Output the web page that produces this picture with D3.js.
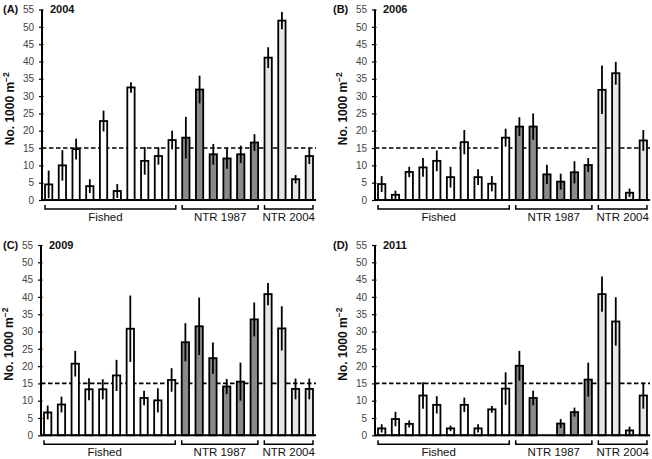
<!DOCTYPE html>
<html><head><meta charset="utf-8">
<script src="https://cdn.jsdelivr.net/npm/d3@7"></script>
<style>body{margin:0;background:#fff}svg{display:block}</style>
</head><body>
<svg id="c" width="652" height="459"></svg>
<script>
const groups = ["Fished","NTR 1987","NTR 2004"];
const groupSizes = [10,6,4];
const groupColors = ["#ffffff","#8a8a8a","#e6e6e6"];
const yTicks = [0,5,10,15,20,25,30,35,40,45,50,55];
const threshold = 15;
const panelLabels = ["(A)","(B)","(C)","(D)"];
const years = ["2004","2006","2009","2011"];

const mean2004 = [4.5,10,14.7,4,22.8,2.6,32.5,11.3,12.7,17.3, 18,31.9,13.2,12,13.2,16.6, 41.1,51.8,6,12.7];
const err2004  = [4,4.4,3,2,3,2,1.5,4,2.5,2.7, 6,4,3,3,2.5,2.4, 3,2.5,1.2,2.3];
const mean2006 = [4.6,1.5,8.1,9.4,11.3,6.6,16.7,6.6,4.7,18, 21.2,21.2,7.4,5.3,8,10.1, 31.8,36.6,2.1,17.2];
const err2006  = [2.3,1.2,1.5,2.7,3,3,3.5,2.3,2.2,2.6, 2.7,3.8,2.8,2.3,3.2,2, 7,3.3,1.2,3];
const mean2009 = [6.6,8.9,20.7,13.3,13.3,17.3,30.8,10.8,10.1,16, 26.9,31.5,22.3,14.1,15.5,33.5, 40.8,30.9,13.4,13.4];
const err2009  = [2,2.3,3.7,3.2,2.9,4.5,9.6,2.1,3.5,3.4, 5.5,8.3,4.5,2.2,5.5,4.9, 3.2,6.4,3,3];
const mean2011 = [2,4.7,3.3,11.5,8.8,2,8.8,2,7.5,13.5, 20.1,10.8,0,3.4,6.7,16.1, 40.8,32.9,1.4,11.5];
const err2011  = [1.2,2.1,1,3.8,2.5,0.8,2.1,1.2,1,4.7, 4.3,2.1,0,1.3,1.3,4.9, 5.1,7,1.1,3.8];

const panelMeans = [mean2004,mean2006,mean2009,mean2011];
const panelErrs = [err2004,err2006,err2009,err2011];

const svg = d3.select("#c");
const layouts = [
  {x0:42, x1:316, yb:200, yt:9.5},
  {x0:375, x1:650, yb:200, yt:9.5},
  {x0:41, x1:316, yb:435.3, yt:245},
  {x0:375, x1:650, yb:435.3, yt:245}
];

const groupOf = [];
groupSizes.forEach((n,g)=>{for(let i=0;i<n;i++)groupOf.push(g);});

layouts.forEach((L,p)=>{
  const means = panelMeans[p], errs = panelErrs[p];
  const idx = d3.range(means.length);
  const x = d3.scaleBand().domain(idx).range([L.x0, L.x1]).paddingInner(0.468).paddingOuter(0.22);
  const y = d3.scaleLinear().domain([0,55]).range([L.yb, L.yt]);
  const g = svg.append("g");

  g.append("line").attr("x1",L.x0).attr("x2",L.x1)
    .attr("y1",y(threshold)).attr("y2",y(threshold))
    .attr("stroke","#000").attr("stroke-width",1.6).attr("stroke-dasharray","4.5,2.5");

  g.selectAll("rect.bar").data(idx.filter(i=>means[i]>0)).join("rect")
    .attr("x",i=>x(i)).attr("width",x.bandwidth())
    .attr("y",i=>y(means[i])).attr("height",i=>y(0)-y(means[i]))
    .attr("fill",i=>groupColors[groupOf[i]])
    .attr("stroke","#000").attr("stroke-width",1.8);

  g.selectAll("line.err").data(idx.filter(i=>errs[i]>0)).join("line")
    .attr("x1",i=>x(i)+x.bandwidth()/2).attr("x2",i=>x(i)+x.bandwidth()/2)
    .attr("y1",i=>y(Math.max(0,means[i]-errs[i]))).attr("y2",i=>y(means[i]+errs[i]))
    .attr("stroke","#000").attr("stroke-width",1.8);

  g.append("line").attr("x1",L.x0).attr("x2",L.x1).attr("y1",y(0)).attr("y2",y(0))
    .attr("stroke","#000").attr("stroke-width",2);

  const ax = g.append("g").attr("transform",`translate(${L.x0},0)`)
    .call(d3.axisLeft(y).tickValues(yTicks).tickSize(3).tickPadding(5));
  ax.select(".domain").attr("stroke","#000").attr("stroke-width",2).attr("d",`M0,${y(0)}V${y(55)}`);
  ax.selectAll(".tick line").attr("stroke","#000").attr("stroke-width",1.2).attr("x2",-3).attr("x1",1.5);
  ax.selectAll(".tick text").attr("fill","#444").style("font-family","Liberation Sans, Arial, sans-serif").style("font-size","10px");

  let start = 0;
  groupSizes.forEach((n,gi)=>{
    const a = x(start), b = x(start+n-1)+x.bandwidth();
    const by = y(0)+9;
    g.append("path").attr("d",`M${a},${by-4}V${by}H${b}V${by-4}`)
      .attr("fill","none").attr("stroke","#000").attr("stroke-width",1.5);
    g.append("text").attr("x",(a+b)/2 - (gi===0?5:0)).attr("y",by+11.5)
      .attr("text-anchor","middle").attr("fill","#111")
      .style("font-family","Liberation Sans, Arial, sans-serif").style("font-size","11.5px")
      .text(groups[gi]);
    start += n;
  });

  const lx = p%2===0 ? 3 : 333;
  g.append("text").attr("x",lx).attr("y",L.yt+3.5).attr("fill","#111")
    .style("font-family","Liberation Sans, Arial, sans-serif").style("font-size","11px").style("font-weight","bold")
    .text(panelLabels[p]);
  g.append("text").attr("x",L.x0+8).attr("y",L.yt+3.5).attr("fill","#111")
    .style("font-family","Liberation Sans, Arial, sans-serif").style("font-size","11px").style("font-weight","bold")
    .text(years[p]);

  const ylx = L.x0 - 28, yly = (y(0)+y(55))/2 + 4;
  const t = g.append("text").attr("transform",`translate(${ylx},${yly}) rotate(-90)`)
    .attr("text-anchor","middle").attr("fill","#111")
    .style("font-family","Liberation Sans, Arial, sans-serif").style("font-size","12px").style("font-weight","bold");
  t.append("tspan").text("No. 1000 m");
  t.append("tspan").attr("dy",-5).style("font-size","8.5px").text("−2");
});
</script>
</body></html>
